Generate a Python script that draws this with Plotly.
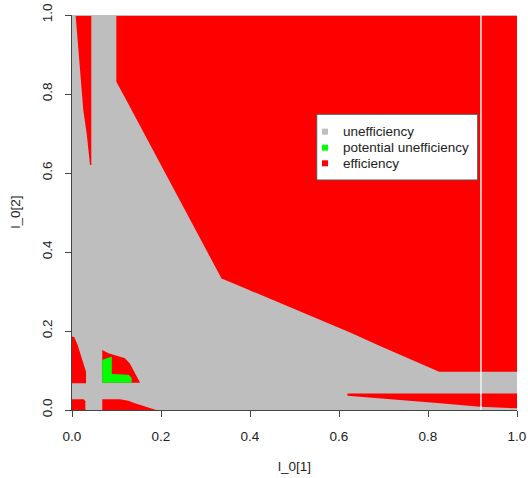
import plotly.graph_objects as go

# ---- data: region boundaries (l_0[1], l_0[2]) ----
# efficiency (red) regions
eff_big_x = [0.0996, 0.0996, 0.118, 0.238, 0.336, 0.37, 0.475, 0.55, 0.625, 0.692, 0.825, 1.0, 1.0]
eff_big_y = [0.9975, 0.831, 0.793, 0.539, 0.333, 0.317, 0.268, 0.231, 0.196, 0.162, 0.097, 0.097, 0.9975]

eff_wedge_x = [0.0083, 0.018, 0.0254, 0.033, 0.038, 0.0405, 0.0434, 0.0434]
eff_wedge_y = [0.9975, 0.869, 0.759, 0.70, 0.65, 0.62, 0.62, 0.9975]

eff_ll_top_x = [0.0, 0.0052, 0.0127, 0.0202, 0.0277, 0.0315, 0.0315, 0.0]
eff_ll_top_y = [0.186, 0.184, 0.1646, 0.139, 0.114, 0.097, 0.0675, 0.0675]

eff_ll_bot_x = [0.0, 0.030, 0.030, 0.026, 0.0]
eff_ll_bot_y = [0.0, 0.0, 0.022, 0.027, 0.027]

eff_mid_x = [0.068, 0.068, 0.082, 0.0966, 0.119, 0.130, 0.1416, 0.153]
eff_mid_y = [0.069, 0.152, 0.1435, 0.139, 0.131, 0.118, 0.093, 0.069]

eff_mid_bot_x = [0.068, 0.068, 0.108, 0.1266, 0.1416, 0.164, 0.189]
eff_mid_bot_y = [0.0, 0.027, 0.027, 0.0236, 0.017, 0.0084, 0.0]

eff_lr_x = [0.619, 1.0, 1.0, 0.917, 0.827, 0.692, 0.619]
eff_lr_y = [0.042, 0.042, 0.0043, 0.0084, 0.017, 0.0296, 0.036]

# potential unefficiency (green) region
pot_x = [0.068, 0.068, 0.078, 0.0876, 0.0895, 0.0895, 0.127, 0.134, 0.134]
pot_y = [0.069, 0.1266, 0.131, 0.135, 0.135, 0.091, 0.089, 0.081, 0.069]

# column with missing values (drawn blank)
na_col_x = [0.919, 0.919]
na_col_y = [0.0, 1.0]

# axes
tick_vals = [0.0, 0.2, 0.4, 0.6, 0.8, 1.0]
tick_text = ["0.0", "0.2", "0.4", "0.6", "0.8", "1.0"]
x_title = "l_0[1]"
y_title = "l_0[2]"

# legend
legend_labels = ["unefficiency", "potential unefficiency", "efficiency"]
legend_colors = ["#BEBEBE", "#00FF00", "#FF0000"]

RED = "#FF0000"
GREEN = "#00FF00"
GRAY = "#BEBEBE"
FONT = "Liberation Sans, Arial, sans-serif"
TXT = "#222222"

fig = go.Figure()

for xs, ys in [(eff_big_x, eff_big_y), (eff_wedge_x, eff_wedge_y),
               (eff_ll_top_x, eff_ll_top_y), (eff_ll_bot_x, eff_ll_bot_y),
               (eff_mid_x, eff_mid_y), (eff_mid_bot_x, eff_mid_bot_y),
               (eff_lr_x, eff_lr_y)]:
    fig.add_trace(go.Scatter(x=xs, y=ys, mode="lines", fill="toself",
                             fillcolor=RED, line=dict(width=0, color=RED),
                             hoverinfo="skip", showlegend=False))

fig.add_trace(go.Scatter(x=pot_x, y=pot_y, mode="lines", fill="toself",
                         fillcolor=GREEN, line=dict(width=0, color=GREEN),
                         hoverinfo="skip", showlegend=False))

fig.add_trace(go.Scatter(x=na_col_x, y=na_col_y, mode="lines",
                         line=dict(width=1.5, color="#F2F2F2"),
                         hoverinfo="skip", showlegend=False))

# ---- manual legend (R style) ----
lg_x0, lg_x1, lg_y0, lg_y1 = 0.55, 0.9117, 0.5823, 0.7486
row_y = [0.7046, 0.6641, 0.6246]
fig.add_trace(go.Scatter(x=[lg_x0, lg_x1, lg_x1, lg_x0, lg_x0],
                         y=[lg_y0, lg_y0, lg_y1, lg_y1, lg_y0],
                         mode="lines", fill="toself", fillcolor="white",
                         line=dict(color="#555555", width=1),
                         hoverinfo="skip", showlegend=False))
fig.add_trace(go.Scatter(x=[0.5685] * 3, y=row_y, mode="markers",
                         marker=dict(symbol="square", size=6, color=legend_colors,
                                     line=dict(width=0)),
                         hoverinfo="skip", showlegend=False))
for lab, yy in zip(legend_labels, row_y):
    fig.add_annotation(x=0.6038, y=yy, xref="x", yref="y", text=lab, showarrow=False,
                       xanchor="left", yanchor="middle",
                       font=dict(family=FONT, size=13.5, color=TXT))

# axis titles
fig.add_annotation(x=0.5, y=-0.1418, xref="paper", yref="paper", text=x_title,
                   showarrow=False, xanchor="center", yanchor="middle",
                   font=dict(family=FONT, size=13.5, color=TXT))
fig.add_annotation(x=-0.128, y=0.5, xref="paper", yref="paper", text=y_title,
                   showarrow=False, xanchor="center", yanchor="middle", textangle=-90,
                   font=dict(family=FONT, size=13.5, color=TXT))

axis_common = dict(range=[0, 1], tickvals=tick_vals, ticktext=tick_text,
                   showgrid=False, zeroline=False, showline=True,
                   linecolor="#444444", linewidth=1, ticks="outside", ticklen=6,
                   tickcolor="#444444", tickwidth=1,
                   tickfont=dict(family=FONT, size=13.5, color=TXT),
                   fixedrange=True, automargin=False)

fig.update_layout(
    width=528, height=478,
    margin=dict(l=72, r=11, t=15, b=68, pad=0),
    paper_bgcolor="white", plot_bgcolor=GRAY,
    xaxis=dict(**axis_common, ticklabelstandoff=8),
    yaxis=dict(**axis_common, tickangle=-90, ticklabelstandoff=8),
    showlegend=False, hovermode=False,
    font=dict(family=FONT, color=TXT),
)

fig.write_html("out.html")
